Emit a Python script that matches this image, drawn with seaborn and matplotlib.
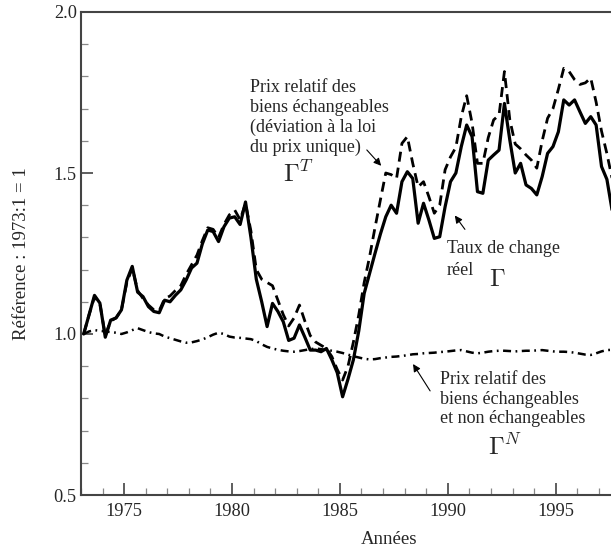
"""
plot
---------------------------------------------------------------------
Taux de change reel et ses deux composantes (1973:1 = 1), trimestriel
"""
import matplotlib
matplotlib.use("Agg")
import matplotlib.pyplot as plt
import seaborn as sns
from matplotlib.ticker import FixedLocator, MultipleLocator, FormatStrFormatter


FIRST_YEAR = 1973
YEAR_TICKS = [1975, 1980, 1985, 1990, 1995]

# taux de change reel
GAMMA = [1.000, 1.060, 1.120, 1.096, 0.990, 1.043, 1.050, 1.075, 1.167, 1.210,
         1.130, 1.116, 1.085, 1.070, 1.066, 1.105, 1.100, 1.120, 1.137, 1.168,
         1.205, 1.220, 1.280, 1.323, 1.318, 1.287, 1.333, 1.360, 1.364, 1.340,
         1.410, 1.300, 1.170, 1.100, 1.023, 1.095, 1.070, 1.038, 0.980, 0.987,
         1.028, 0.990, 0.950, 0.950, 0.945, 0.955, 0.920, 0.880, 0.805, 0.860,
         0.920, 1.010, 1.126, 1.188, 1.250, 1.310, 1.364, 1.400, 1.375, 1.473,
         1.504, 1.483, 1.344, 1.406, 1.354, 1.297, 1.302, 1.395, 1.473, 1.500,
         1.582, 1.649, 1.613, 1.442, 1.437, 1.540, 1.556, 1.571, 1.716, 1.602,
         1.500, 1.530, 1.463, 1.452, 1.432, 1.489, 1.561, 1.582, 1.628, 1.727,
         1.711, 1.727, 1.690, 1.654, 1.675, 1.649, 1.520, 1.480, 1.380, 1.300]

# prix relatif des biens echangeables
GAMMA_T = [1.000, 1.060, 1.115, 1.095, 0.995, 1.040, 1.050, 1.075, 1.160, 1.205,
           1.135, 1.110, 1.090, 1.075, 1.072, 1.110, 1.118, 1.135, 1.150, 1.185,
           1.215, 1.245, 1.290, 1.330, 1.325, 1.300, 1.340, 1.370, 1.385, 1.355,
           1.405, 1.320, 1.200, 1.170, 1.160, 1.150, 1.105, 1.060, 1.025, 1.050,
           1.090, 1.040, 0.995, 0.975, 0.965, 0.955, 0.930, 0.890, 0.857, 0.900,
           0.975, 1.060, 1.160, 1.240, 1.330, 1.416, 1.500, 1.495, 1.483, 1.592,
           1.613, 1.530, 1.457, 1.473, 1.426, 1.375, 1.400, 1.510, 1.550, 1.580,
           1.675, 1.740, 1.655, 1.530, 1.530, 1.610, 1.665, 1.680, 1.815, 1.665,
           1.590, 1.575, 1.556, 1.540, 1.515, 1.600, 1.670, 1.700, 1.760, 1.825,
           1.815, 1.790, 1.775, 1.780, 1.795, 1.720, 1.630, 1.560, 1.480, 1.400]

# prix relatif echangeables / non echangeables
GAMMA_N = [1.000, 1.008, 1.012, 1.010, 1.008, 1.006, 1.004, 1.000, 1.005, 1.012,
           1.018, 1.012, 1.006, 1.002, 1.000, 0.992, 0.987, 0.982, 0.977, 0.973,
           0.974, 0.978, 0.983, 0.990, 0.998, 1.004, 1.000, 0.992, 0.989, 0.988,
           0.986, 0.984, 0.978, 0.968, 0.960, 0.955, 0.951, 0.948, 0.946, 0.945,
           0.947, 0.950, 0.953, 0.955, 0.953, 0.950, 0.948, 0.945, 0.941, 0.936,
           0.931, 0.927, 0.923, 0.921, 0.922, 0.925, 0.927, 0.929, 0.930, 0.932,
           0.934, 0.937, 0.938, 0.940, 0.941, 0.942, 0.944, 0.945, 0.947, 0.949,
           0.950, 0.946, 0.942, 0.940, 0.942, 0.945, 0.947, 0.948, 0.948, 0.947,
           0.946, 0.947, 0.948, 0.948, 0.949, 0.950, 0.948, 0.946, 0.945, 0.945,
           0.944, 0.942, 0.939, 0.936, 0.935, 0.940, 0.946, 0.950, 0.951, 0.951]

TEXT_T = "Prix relatif des\nbiens échangeables\n(déviation à la loi\ndu prix unique)"
TEXT_N = "Prix relatif des\nbiens échangeables\net non échangeables"


def main():
    sns.set_style("ticks")
    plt.rcParams['font.family'] = ['Liberation Serif', 'DejaVu Serif']
    plt.rcParams['mathtext.fontset'] = 'cm'

    # quarterly dates, plotted at mid-quarter
    dates = [FIRST_YEAR + (i + 0.5) / 4 for i in range(len(GAMMA))]

    fig = plt.figure(figsize=(6.11, 5.53), dpi=100)
    # the original figure is cropped on the right, so the axes run past the edge
    ax = fig.add_axes([81 / 611, 58 / 553, 616 / 611, 483 / 553])

    sns.lineplot(x=dates, y=GAMMA_N, ax=ax, color='black', linewidth=1.8,
                 linestyle=(0, (3.2, 1.8, 0.7, 1.8)))
    sns.lineplot(x=dates, y=GAMMA_T, ax=ax, color='black', linewidth=2.0,
                 linestyle=(0, (3.6, 2.2)))
    sns.lineplot(x=dates, y=GAMMA, ax=ax, color='black', linewidth=2.3)

    ax.set_xlim(1973, 2001.55)
    ax.set_ylim(0.5, 2.0)
    ax.xaxis.set_major_locator(FixedLocator(YEAR_TICKS))
    ax.xaxis.set_minor_locator(MultipleLocator(1))
    ax.yaxis.set_major_locator(MultipleLocator(0.5))
    ax.yaxis.set_minor_locator(MultipleLocator(0.1))
    ax.yaxis.set_major_formatter(FormatStrFormatter('%.1f'))

    ax.tick_params(which='major', direction='in', length=8.5, width=1.1,
                   color='#333333', labelsize=13.2)
    ax.tick_params(which='minor', direction='in', length=5, width=0.9,
                   color='#888888')
    ax.tick_params(axis='y', pad=3)
    ax.tick_params(axis='x', pad=6)
    for side in ['left', 'bottom', 'top']:
        ax.spines[side].set_linewidth(1.5)
        ax.spines[side].set_color('#444444')
    ax.spines['right'].set_visible(False)

    ax.set_xlabel("Années", fontsize=13.5, labelpad=8)
    ax.set_ylabel("Référence : 1973:1 = 1", fontsize=13.5, labelpad=17)

    # annotations
    ax.text(1980.83, 1.672, TEXT_T, fontsize=13, ha='left', va='center')
    ax.text(1982.36, 1.472, r'$\Gamma^T$', fontsize=18, ha='left', va='baseline')
    ax.annotate("", xy=(1987.0, 1.516), xytext=(1986.16, 1.578),
                arrowprops=dict(arrowstyle='-|>', color='black', lw=0.8,
                                mutation_scale=11))

    ax.text(1989.96, 1.267, "Taux de change", fontsize=13, ha='left', va='center')
    ax.text(1989.96, 1.196, "réel", fontsize=13, ha='left', va='center')
    ax.text(1991.9, 1.148, r'$\Gamma$', fontsize=18, ha='left', va='baseline')
    ax.annotate("", xy=(1990.25, 1.375), xytext=(1990.87, 1.318),
                arrowprops=dict(arrowstyle='-|>', color='black', lw=0.8,
                                mutation_scale=11))

    ax.text(1989.64, 0.797, TEXT_N, fontsize=13, ha='left', va='center')
    ax.text(1991.86, 0.624, r'$\Gamma^N$', fontsize=18, ha='left', va='baseline')
    ax.annotate("", xy=(1988.32, 0.914), xytext=(1989.25, 0.816),
                arrowprops=dict(arrowstyle='-|>', color='black', lw=0.8,
                                mutation_scale=11))

    fig.savefig("out.png", dpi=100)
    plt.close(fig)


if __name__ == "__main__":
    main()
